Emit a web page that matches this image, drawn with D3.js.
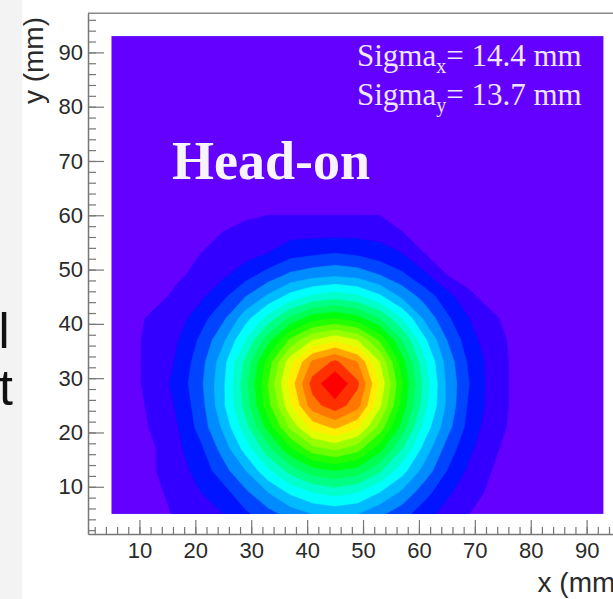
<!DOCTYPE html>
<html><head><meta charset="utf-8">
<script src="https://cdn.jsdelivr.net/npm/d3@7"></script>
<style>body{margin:0;background:#f3f3f3;}svg{display:block}</style>
</head><body>
<svg id="c" width="613" height="599"></svg>
<script>
// ---- data ----
const xCenters = [5,9,13,17,21,25,29,33,37,41,45,49,53,57,61,65,69,73,77,81,85,89,93];
const yCenters = [5,9,13,17,21,25,29,33,37,41,45,49,53,57,61,65,69,73,77,81,85,89,93];
// rows: first row is y = 5 mm, columns x = 5..93 mm
const zRows = [
 [1,2,3,6,8,10,14,18,22,25,26,25,21,17,12,8,5,3,2,1,0,0,0],
 [1,2,4,7,10,13,19,25,31,35,37,35,30,24,17,11,7,4,2,1,0,0,0],
 [1,3,5,8,12,18,25,34,42,48,50,48,41,32,23,15,9,5,3,1,1,0,0],
 [2,3,5,9,14,22,32,43,54,63,66,62,52,40,28,18,11,6,3,2,1,0,0],
 [2,3,6,10,17,26,38,52,66,77,81,76,63,48,33,22,13,7,4,2,1,0,0],
 [2,4,6,11,18,29,42,58,74,88,93,87,71,53,37,24,14,8,4,2,1,0,0],
 [2,4,7,12,19,29,43,60,77,92,100,91,74,55,38,24,15,8,4,2,1,0,0],
 [2,4.5,6,11,18,28,41,57,73,86,91,85,70,52,36,23,14,8,4,2,1,0,0],
 [2,4.5,6,10,16,24,35,48,61,70,74,70,59,45,31,20,12,7,4,2,1,0,0],
 [1,4,6,8,13,19,28,37,46,53,55,52,45,35,24,16,10,6,3,2,1,0,0],
 [1,2,4,6,9,14,20,26,32,36,38,36,31,24,18,12,6,3,2,1,0,0,0],
 [1,1,2,4.5,6,9,13,17,21,23,24,23,20,16,11,5,3,2,1,0,0,0,0],
 [0,1,2,3,5,6,8,10,13,14,15,14,12,10,5,3,2,1,0,0,0,0,0],
 [0,1,1,2,3,5,7,8,8,8,8,8,8,5,3,2,1,0,0,0,0,0,0],
 [0,0,0,1,1,2,3,4,4,4,4,4,4,3,2,1,0,0,0,0,0,0,0],
 [0,0,0,0,0,1,1,2,2,2,2,2,2,2,1,0,0,0,0,0,0,0,0],
 [0,0,0,0,0,0,0,0,1,1,1,1,1,0,0,0,0,0,0,0,0,0,0],
 [0,0,0,0,0,0,0,0,0,0,0,0,0,0,0,0,0,0,0,0,0,0,0],
 [0,0,0,0,0,0,0,0,0,0,0,0,0,0,0,0,0,0,0,0,0,0,0],
 [0,0,0,0,0,0,0,0,0,0,0,0,0,0,0,0,0,0,0,0,0,0,0],
 [0,0,0,0,0,0,0,0,0,0,0,0,0,0,0,0,0,0,0,0,0,0,0],
 [0,0,0,0,0,0,0,0,0,0,0,0,0,0,0,0,0,0,0,0,0,0,0],
 [0,0,0,0,0,0,0,0,0,0,0,0,0,0,0,0,0,0,0,0,0,0,0]
];
const levels = [5,10,15,20,25,30,35,40,45,50,55,60,65,70,75,80,85,90,95];
const xTickLabels = [10,20,30,40,50,60,70,80,90];
const yTickLabels = [10,20,30,40,50,60,70,80,90];
const sigmaX = "14.4", sigmaY = "13.7";
const titleText = "Head-on";

// ---- style ----
const palette = ["#6300FF","#3300FF","#0014FF","#0044FF","#008BFF","#00BBFF","#00FFFC","#00FFCC",
  "#00FF85","#00FF55","#00FF0E","#22FF00","#69FF00","#99FF00","#E0FF00","#FFEE00","#FFA700",
  "#FF7700","#FF3000","#FF0000"];
const W = 613, H = 599;
const xAxisRange = [0.8, 96.8], yAxisRange = [1.3, 97.2];
const svg = d3.select("#c");

svg.append("rect").attr("width", W).attr("height", H).attr("fill", "#f3f3f3");
svg.append("rect").attr("x", 22).attr("width", W - 22).attr("height", H).attr("fill", "#ffffff");

// cut-off slide text on the left
svg.append("text").attr("x", -1.5).attr("y", 348).text("l")
  .attr("font-family", "Liberation Sans, Arial, sans-serif").attr("font-size", 50).attr("fill", "#111");
svg.append("text").attr("x", -1).attr("y", 405).text("t")
  .attr("font-family", "Liberation Sans, Arial, sans-serif").attr("font-size", 50).attr("fill", "#111");

const x = d3.scaleLinear().domain(xAxisRange).range([88, 88 + 96 * 5.59]);
const y = d3.scaleLinear().domain(yAxisRange).range([534, 13.3]);

// data area (lowest colour)
const x0 = x(xCenters[0]), x1 = x(xCenters[xCenters.length - 1]);
const y0 = y(yCenters[yCenters.length - 1]), y1 = y(yCenters[0]);
svg.append("clipPath").attr("id", "clip").append("rect")
  .attr("x", x0).attr("y", y0).attr("width", x1 - x0).attr("height", y1 - y0);
svg.append("rect").attr("x", x0).attr("y", y0).attr("width", x1 - x0).attr("height", y1 - y0)
  .attr("fill", palette[0]);

const nx = xCenters.length, ny = yCenters.length;
const values = zRows.flat();
const contours = d3.contours().size([nx, ny]).thresholds(levels)(values);
const dxg = xCenters[1] - xCenters[0], dyg = yCenters[1] - yCenters[0];
const proj = d3.geoTransform({
  point(px, py) {
    this.stream.point(x(xCenters[0] + (px - 0.5) * dxg), y(yCenters[0] + (py - 0.5) * dyg));
  }
});
const path = d3.geoPath(proj);
svg.append("g").attr("clip-path", "url(#clip)")
  .selectAll("path").data(contours).join("path")
  .attr("d", path)
  .attr("fill", (d, i) => palette[i + 1])
  .attr("stroke", (d, i) => palette[i + 1]).attr("stroke-width", 0.6);

// frame top line
svg.append("line").attr("x1", x(xAxisRange[0])).attr("x2", x(xAxisRange[1]))
  .attr("y1", y(yAxisRange[1])).attr("y2", y(yAxisRange[1]))
  .attr("stroke", "#888").attr("stroke-width", 1.5);

const minorX = d3.range(2, 97, 2), minorY = d3.range(2, 97, 2);
const axisColor = "#777";
function styleAxis(g) {
  g.selectAll(".domain").attr("stroke", axisColor).attr("stroke-width", 1.5);
  g.selectAll(".tick line").attr("stroke", axisColor).attr("stroke-width", 1.2);
  g.selectAll("text").attr("fill", "#2a2a2a")
    .attr("font-family", "Liberation Sans, Arial, Helvetica, sans-serif").attr("font-size", 22);
}
const gxm = svg.append("g").attr("transform", `translate(0,${y(yAxisRange[0])})`)
  .call(d3.axisBottom(x).tickValues(minorX).tickSize(-7).tickSizeOuter(0).tickFormat(""));
styleAxis(gxm);
const gx = svg.append("g").attr("transform", `translate(0,${y(yAxisRange[0])})`)
  .call(d3.axisBottom(x).tickValues(xTickLabels).tickSize(-14).tickSizeOuter(0).tickPadding(8));
gx.select(".domain").remove();
styleAxis(gx);

const gym = svg.append("g").attr("transform", `translate(${x(xAxisRange[0])},0)`)
  .call(d3.axisLeft(y).tickValues(minorY).tickSize(-8).tickSizeOuter(0).tickFormat(""));
styleAxis(gym);
const gy = svg.append("g").attr("transform", `translate(${x(xAxisRange[0])},0)`)
  .call(d3.axisLeft(y).tickValues(yTickLabels).tickSize(-16).tickSizeOuter(0).tickPadding(5));
gy.select(".domain").remove();
styleAxis(gy);

// axis titles
svg.append("text").attr("x", x(xAxisRange[1])).attr("y", 592).attr("text-anchor", "end")
  .attr("font-family", "Liberation Sans, Arial, sans-serif").attr("font-size", 28).attr("fill", "#2a2a2a")
  .text("x (mm)");
svg.append("text").attr("transform", "translate(43,17) rotate(-90)").attr("text-anchor", "end")
  .attr("font-family", "Liberation Sans, Arial, sans-serif").attr("font-size", 28).attr("fill", "#2a2a2a")
  .text("y (mm)");

// annotations
function sigmaLine(yb, sub, val) {
  const t = svg.append("text").attr("x", 357).attr("y", yb)
    .attr("font-family", "Liberation Serif, Times New Roman, serif").attr("font-size", 31).attr("fill", "#efe6ff");
  t.append("tspan").text("Sigma");
  t.append("tspan").attr("dy", 7).attr("font-size", 20).text(sub);
  t.append("tspan").attr("dy", -7).text("= " + val + " mm");
}
sigmaLine(66, "x", sigmaX);
sigmaLine(105, "y", sigmaY);

svg.append("text").attr("x", 172).attr("y", 179).text(titleText)
  .attr("font-family", "Liberation Serif, Times New Roman, serif").attr("font-weight", "bold")
  .attr("font-size", 54).attr("fill", "#f8f4ff");
</script>
</body></html>
